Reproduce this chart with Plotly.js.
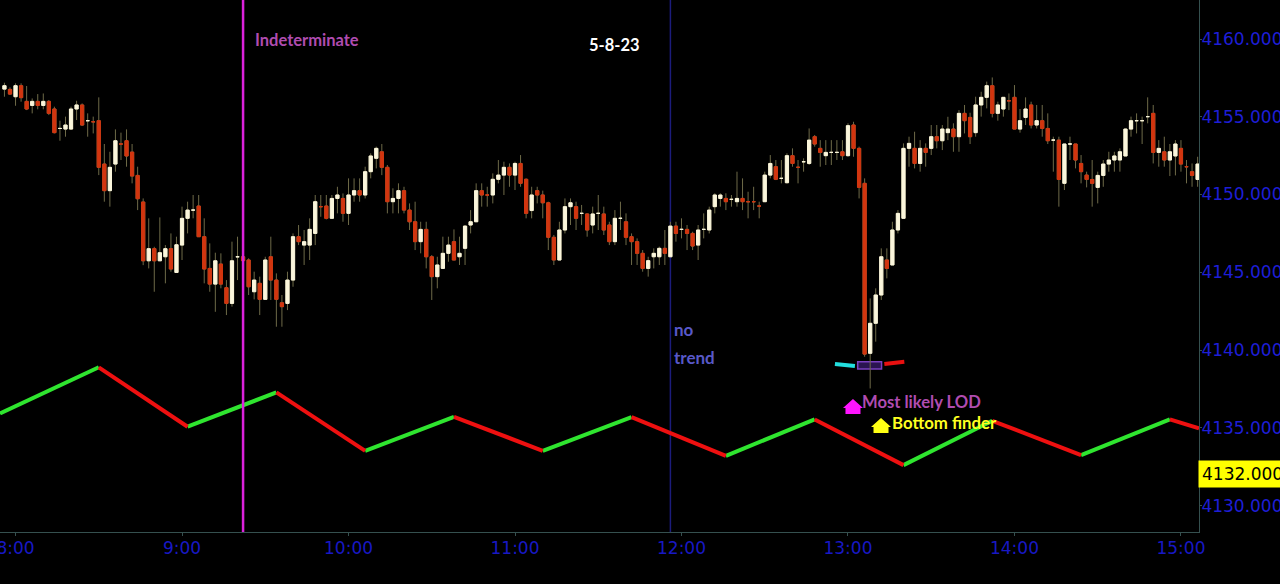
<!DOCTYPE html>
<html><head><meta charset="utf-8">
<script src="https://cdn.plot.ly/plotly-3.0.1.min.js"></script>
<style>html,body{margin:0;padding:0;background:#000;overflow:hidden}#chart{width:1280px;height:584px}</style>
</head><body><div id="chart"></div>
<script>
// ---- data ----
const sessionDate = '2023-05-08';
const firstBar = '07:56';
const barMinutes = 2;

const open = [4156.78,4156.76,4156.29,4157.00,4155.99,4155.73,4155.99,4155.73,4155.99,4155.50,
4154.25,4154.21,4154.21,4155.50,4155.76,4154.75,4154.68,4154.75,4151.96,4150.25,
4151.96,4153.25,4153.46,4152.73,4151.23,4149.52,4145.74,4146.52,4145.74,4146.00,
4146.52,4144.99,4146.75,4148.47,4149.00,4149.26,4147.29,4145.25,4144.24,4145.53,
4144.01,4143.00,4146.00,4146.00,4145.79,4143.75,4144.29,4143.26,4146.00,4144.50,
4143.04,4143.00,4144.50,4147.29,4146.75,4146.75,4147.50,4149.22,4149.26,4148.47,
4149.75,4149.75,4148.79,4149.97,4150.25,4149.97,4151.47,4152.33,4152.75,4151.75,
4149.54,4149.75,4150.25,4149.00,4148.25,4146.97,4147.76,4146.00,4144.72,4145.25,
4146.22,4146.97,4146.00,4146.54,4148.04,4148.25,4150.25,4149.97,4149.97,4150.98,
4151.25,4151.75,4151.25,4152.00,4150.98,4148.97,4150.25,4149.97,4149.47,4147.25,
4145.79,4147.72,4149.22,4149.22,4148.79,4148.75,4148.04,4148.79,4148.75,4148.04,
4146.97,4148.47,4148.25,4147.29,4146.97,4146.22,4145.25,4146.00,4146.00,4146.54,
4146.00,4147.97,4147.76,4147.76,4147.50,4146.75,4147.76,4147.72,4149.22,4149.75,
4149.75,4149.69,4149.54,4149.75,4149.54,4149.54,4149.26,4149.54,4151.25,4151.79,
4151.04,4150.76,4152.50,4151.75,4152.11,4152.00,4153.72,4152.97,4152.50,4152.71,
4152.71,4152.75,4152.50,4154.47,4152.97,4150.72,4139.79,4141.72,4143.54,4145.79,
4145.47,4147.72,4148.47,4152.97,4152.97,4152.00,4152.97,4152.97,4153.72,4153.46,
4153.98,4154.21,4153.72,4155.22,4154.96,4153.98,4155.76,4156.25,4157.00,4155.22,
4155.50,4156.03,4156.25,4154.21,4154.96,4155.76,4154.47,4154.75,4154.25,4153.50,
4153.50,4150.72,4153.25,4153.25,4152.00,4151.25,4150.97,4150.46,4151.23,4151.96,
4152.22,4152.22,4152.48,4154.21,4154.75,4154.75,4155.01,4155.22,4152.71,4152.75,
4152.22,4152.48,4152.97,4151.79,4151.47,4150.97];

const high = [4157.19,4156.89,4157.15,4157.15,4156.98,4156.18,4156.46,4156.50,4156.08,4155.65,
4154.75,4155.01,4155.65,4156.03,4155.86,4155.22,4155.01,4156.25,4153.25,4152.75,
4154.19,4153.98,4154.19,4153.25,4151.79,4149.75,4148.47,4146.64,4148.53,4146.75,
4147.50,4147.29,4149.22,4149.54,4149.97,4149.97,4148.47,4146.86,4146.26,4146.22,
4144.50,4146.97,4147.29,4146.60,4145.90,4145.04,4144.72,4146.00,4147.29,4144.93,
4143.54,4145.04,4147.50,4148.04,4147.72,4148.47,4149.97,4149.97,4149.97,4149.97,
4150.50,4150.07,4151.04,4151.04,4151.04,4151.79,4152.65,4153.08,4153.25,4151.90,
4150.40,4150.72,4150.50,4149.43,4149.54,4148.25,4148.25,4146.11,4146.00,4147.29,
4147.29,4147.76,4147.29,4148.04,4149.00,4150.72,4150.72,4150.50,4151.36,4152.22,
4152.11,4152.00,4152.11,4152.54,4151.04,4150.50,4150.50,4150.25,4149.54,4147.40,
4148.25,4149.75,4149.75,4149.54,4149.33,4148.79,4149.22,4149.97,4149.22,4148.25,
4149.00,4149.54,4148.79,4147.50,4147.18,4146.43,4146.00,4146.54,4146.65,4147.72,
4148.25,4148.25,4148.47,4148.04,4147.61,4148.04,4148.79,4149.22,4150.08,4150.08,
4150.08,4149.97,4151.47,4151.04,4150.18,4150.50,4149.54,4151.47,4152.54,4152.22,
4152.22,4152.65,4152.97,4152.22,4152.33,4154.25,4153.83,4153.50,4153.50,4153.50,
4153.50,4153.50,4154.58,4154.68,4153.08,4151.04,4143.32,4143.97,4146.54,4146.54,
4148.25,4149.00,4153.29,4153.72,4154.04,4153.50,4153.29,4154.47,4154.47,4154.47,
4155.00,4154.58,4155.43,4155.76,4155.26,4156.29,4156.61,4157.26,4157.53,4155.97,
4156.25,4156.50,4157.04,4155.50,4156.25,4155.97,4155.76,4155.76,4155.22,4153.72,
4153.72,4153.25,4153.72,4153.25,4152.54,4151.47,4152.22,4151.47,4152.22,4152.75,
4152.75,4152.97,4154.25,4155.01,4155.22,4155.01,4156.25,4155.76,4153.50,4153.72,
4153.25,4153.50,4153.50,4152.22,4152.00,4152.43];

const low = [4156.29,4156.40,4155.71,4155.97,4155.43,4155.22,4155.48,4155.48,4155.11,4153.93,
4153.46,4153.72,4154.15,4154.79,4154.41,4153.72,4153.93,4151.25,4149.54,4149.22,
4151.47,4152.22,4151.79,4150.72,4149.00,4145.46,4145.25,4143.75,4145.74,4144.29,
4145.04,4144.99,4145.79,4147.50,4148.47,4147.29,4144.29,4143.75,4142.46,4143.97,
4142.25,4142.79,4144.50,4145.30,4143.54,4143.26,4142.25,4143.22,4143.22,4141.50,
4141.50,4142.57,4144.07,4146.75,4145.47,4145.79,4146.75,4148.57,4148.40,4148.47,
4148.79,4148.25,4148.04,4149.54,4149.54,4149.75,4151.04,4151.68,4151.25,4148.79,
4148.79,4148.79,4148.79,4147.72,4146.43,4146.22,4145.25,4143.22,4143.97,4145.25,
4145.68,4145.79,4145.47,4145.47,4147.50,4148.25,4149.22,4149.22,4149.43,4150.72,
4149.97,4150.50,4150.29,4150.50,4148.47,4148.47,4149.43,4148.47,4146.43,4145.47,
4145.79,4147.50,4148.04,4147.72,4148.04,4147.29,4147.50,4147.72,4147.40,4146.75,
4146.75,4147.72,4146.75,4145.47,4145.47,4145.04,4144.72,4145.25,4145.47,4145.47,
4146.00,4146.97,4147.18,4146.43,4146.43,4145.79,4147.18,4147.50,4148.79,4149.22,
4149.00,4149.22,4149.22,4149.00,4148.47,4149.00,4148.47,4149.54,4151.04,4150.93,
4150.72,4150.72,4151.79,4150.72,4151.47,4151.90,4153.08,4151.79,4151.90,4151.90,
4152.22,4152.22,4152.43,4152.43,4149.75,4139.57,4137.53,4140.54,4143.22,4144.61,
4145.47,4147.50,4148.47,4151.79,4151.68,4151.47,4151.79,4152.54,4152.97,4152.86,
4153.50,4152.75,4152.75,4153.93,4153.25,4153.72,4155.01,4155.54,4154.96,4154.75,
4155.01,4155.43,4154.21,4153.98,4154.47,4154.25,4154.25,4153.72,4153.25,4151.47,
4149.22,4150.29,4152.22,4151.68,4150.72,4150.46,4149.22,4149.43,4150.50,4151.47,
4151.47,4151.47,4152.48,4153.72,4153.93,4153.25,4154.58,4152.00,4151.79,4151.79,
4151.19,4151.23,4151.47,4150.72,4150.50,4150.50];

const close = [4157.00,4156.46,4157.00,4156.23,4155.50,4155.99,4155.73,4155.99,4155.22,4153.98,
4154.25,4154.47,4155.50,4155.76,4154.47,4154.75,4154.68,4151.75,4150.25,4151.75,
4153.46,4153.25,4152.48,4151.19,4149.73,4145.74,4146.52,4145.74,4146.26,4146.52,
4145.21,4146.77,4148.47,4149.00,4149.00,4147.29,4145.21,4144.24,4145.74,4144.24,
4143.00,4145.74,4146.00,4145.75,4144.07,4144.50,4143.26,4145.79,4144.50,4143.26,
4142.79,4144.50,4147.29,4146.97,4146.97,4147.76,4149.54,4149.22,4148.47,4149.75,
4149.97,4148.79,4149.97,4150.25,4149.97,4151.47,4152.48,4152.97,4151.75,4149.54,
4149.75,4150.25,4149.00,4148.25,4146.97,4147.76,4146.00,4144.72,4145.47,4146.22,
4146.75,4145.79,4146.22,4147.97,4148.25,4150.25,4149.97,4149.97,4150.98,4151.25,
4151.75,4151.25,4152.00,4150.72,4148.79,4149.97,4149.97,4149.47,4147.25,4145.79,
4147.72,4149.22,4149.47,4148.47,4148.79,4147.72,4148.75,4148.79,4147.72,4146.97,
4148.47,4148.47,4147.25,4146.97,4146.22,4145.25,4145.75,4146.22,4146.54,4146.22,
4147.97,4147.50,4147.76,4147.50,4146.69,4147.72,4147.76,4149.00,4149.97,4149.97,
4149.54,4149.69,4149.75,4149.54,4149.54,4149.54,4149.26,4151.25,4152.00,4150.98,
4151.04,4152.50,4152.00,4151.75,4152.11,4153.50,4153.25,4152.71,4152.71,4152.71,
4152.71,4152.50,4154.43,4152.97,4150.46,4139.74,4141.72,4143.54,4146.00,4145.25,
4147.72,4148.79,4152.97,4153.29,4152.00,4152.97,4152.71,4153.72,4153.46,4154.21,
4154.21,4153.72,4155.22,4154.75,4153.72,4155.76,4156.25,4157.00,4155.22,4155.76,
4156.25,4156.03,4154.21,4154.75,4155.50,4154.47,4154.75,4154.25,4153.46,4153.50,
4150.97,4153.25,4153.25,4152.22,4151.47,4150.97,4150.72,4151.23,4151.96,4152.22,
4152.48,4152.75,4154.21,4154.75,4154.75,4154.75,4155.01,4152.71,4152.97,4152.22,
4152.75,4153.25,4151.96,4151.79,4151.23,4151.96];

// cycle (zigzag) indicator pivots
const zigTimes = ['07:54:24','08:30','09:02','09:34','10:06','10:38','11:10','11:42','12:16','12:48','13:20','13:52','14:24','14:56','15:06:30'];
const zigValues = [4135.93,4138.89,4135.07,4137.28,4133.52,4135.71,4133.52,4135.69,4133.20,4135.54,4132.60,4135.45,4133.25,4135.54,4134.96];

const xTickTimes = ['08:00','09:00','10:00','11:00','12:00','13:00','14:00','15:00'];
const xTickText = ['8:00','9:00','10:00','11:00','12:00','13:00','14:00','15:00'];
const yTicks = [4130,4135,4140,4145,4150,4155,4160];
const priceMarker = 4132.000;

// ---- helpers ----
function pad(n){ return (n < 10 ? '0' : '') + n; }
function ts(hm){ return sessionDate + ' ' + (hm.length === 5 ? hm + ':00' : hm); }
function barTime(i){
  const p = firstBar.split(':').map(Number);
  const tot = p[0] * 60 + p[1] + i * barMinutes;
  return sessionDate + ' ' + pad(Math.floor(tot / 60)) + ':' + pad(tot % 60) + ':00';
}
const times = open.map((_, i) => barTime(i));
const bodyHigh = open.map((o, i) => Math.max(o, close[i]));
const bodyLow = open.map((o, i) => Math.min(o, close[i]));

const wickColor = '#6e6a48';
const upColor = '#fbf6dc';
const downColor = '#d2350f';

const wicks = {
  type: 'candlestick', x: times, open: open, high: high, low: low, close: close,
  increasing: {line: {color: wickColor, width: 1}, fillcolor: 'rgba(0,0,0,0)'},
  decreasing: {line: {color: wickColor, width: 1}, fillcolor: 'rgba(0,0,0,0)'},
  whiskerwidth: 0, hoverinfo: 'skip', showlegend: false
};
const bodies = {
  type: 'candlestick', x: times, open: open, high: bodyHigh, low: bodyLow, close: close,
  increasing: {line: {color: upColor, width: 1}, fillcolor: upColor},
  decreasing: {line: {color: downColor, width: 1}, fillcolor: downColor},
  whiskerwidth: 0, hoverinfo: 'skip', showlegend: false
};

const gx = [], gy = [], rx = [], ry = [];
for (let k = 0; k < zigTimes.length - 1; k++) {
  const up = zigValues[k + 1] > zigValues[k];
  const X = up ? gx : rx, Y = up ? gy : ry;
  X.push(ts(zigTimes[k]), ts(zigTimes[k + 1]), null);
  Y.push(zigValues[k], zigValues[k + 1], null);
}
const zigUp = {type: 'scatter', mode: 'lines', x: gx, y: gy, line: {color: '#2fe52f', width: 4}, hoverinfo: 'skip', showlegend: false, connectgaps: false};
const zigDown = {type: 'scatter', mode: 'lines', x: rx, y: ry, line: {color: '#ee1010', width: 4}, hoverinfo: 'skip', showlegend: false, connectgaps: false};

const txtFont = 'Lato, "Open Sans", sans-serif';
const axisFont = '"DejaVu Sans", sans-serif';

const layout = {
  width: 1280, height: 584,
  paper_bgcolor: '#000', plot_bgcolor: '#000',
  margin: {l: 0, r: 81, t: 0, b: 52},
  showlegend: false,
  boxgap: 0.42, boxgroupgap: 0,
  xaxis: {
    type: 'date',
    range: [ts('07:54:24'), ts('15:06:30')],
    tickmode: 'array', tickvals: xTickTimes.map(ts), ticktext: xTickText,
    showgrid: false, zeroline: false,
    showline: true, linecolor: '#35504f', linewidth: 1,
    ticks: 'outside', ticklen: 3, tickcolor: '#35504f',
    tickfont: {family: axisFont, size: 17, color: '#1818c4'},
    ticklabeloverflow: 'allow', ticklabelstandoff: -2,
    rangeslider: {visible: false}, fixedrange: true
  },
  yaxis: {
    side: 'right',
    range: [4128.30, 4162.51],
    tickmode: 'array', tickvals: yTicks, tickformat: '.3f',
    showgrid: false, zeroline: false,
    showline: true, linecolor: '#35504f', linewidth: 1,
    ticks: 'outside', ticklen: 2, tickcolor: '#35504f',
    tickfont: {family: axisFont, size: 17, color: '#1e1ed6'},
    ticklabeloverflow: 'allow', ticklabelstandoff: -4, fixedrange: true
  },
  shapes: [
    {type: 'line', xref: 'x', yref: 'paper', x0: ts('11:56'), x1: ts('11:56'), y0: 0, y1: 1,
     line: {color: '#1c1c7c', width: 1.5}, layer: 'below'},
    {type: 'line', xref: 'x', yref: 'paper', x0: ts('09:22'), x1: ts('09:22'), y0: 0, y1: 1,
     line: {color: '#dc22dc', width: 2.5}, layer: 'above'},
    {type: 'rect', xref: 'x', yref: 'y', x0: ts('13:03:30'), x1: ts('13:12:06'), y0: 4138.78, y1: 4139.25,
     line: {color: '#7a3fc0', width: 1.5}, fillcolor: '#2a1450', layer: 'below'},
    {type: 'line', xref: 'x', yref: 'y', x0: ts('12:55:18'), y0: 4139.10, x1: ts('13:02:30'), y1: 4138.97,
     line: {color: '#22dede', width: 4}},
    {type: 'line', xref: 'x', yref: 'y', x0: ts('13:13:06'), y0: 4139.10, x1: ts('13:20:18'), y1: 4139.25,
     line: {color: '#e81010', width: 4}},
    {type: 'path', xref: 'x', yref: 'y', xsizemode: 'pixel', ysizemode: 'pixel',
     xanchor: ts('13:01:48'), yanchor: 4135.88,
     path: 'M -7.5,0 L 7.5,0 L 7.5,6 L 10,6 L 0,15 L -10,6 L -7.5,6 Z',
     fillcolor: '#ff14ff', line: {width: 0}},
    {type: 'path', xref: 'x', yref: 'y', xsizemode: 'pixel', ysizemode: 'pixel',
     xanchor: ts('13:11:54'), yanchor: 4134.66,
     path: 'M -7.5,0 L 7.5,0 L 7.5,6 L 10,6 L 0,15 L -10,6 L -7.5,6 Z',
     fillcolor: '#ffff14', line: {width: 0}}
  ],
  annotations: [
    {xref: 'x', yref: 'y', x: ts('09:26:40'), y: 4159.94, xanchor: 'left', yanchor: 'middle', showarrow: false, xshift: -3,
     text: '<b>Indeterminate</b>', font: {family: txtFont, size: 16.5, color: '#b04cb0'}},
    {xref: 'x', yref: 'y', x: ts('11:36'), y: 4159.61, xanchor: 'center', yanchor: 'middle', showarrow: false,
     text: '<b>5-8-23</b>', font: {family: txtFont, size: 16.5, color: '#ffffff'}},
    {xref: 'x', yref: 'y', x: ts('11:57:40'), y: 4141.35, xanchor: 'left', yanchor: 'middle', showarrow: false, xshift: -3,
     text: '<b>no</b>', font: {family: txtFont, size: 17, color: '#5858c8'}},
    {xref: 'x', yref: 'y', x: ts('11:57:40'), y: 4139.49, xanchor: 'left', yanchor: 'middle', showarrow: false, xshift: -3,
     text: '<b>trend</b>', font: {family: txtFont, size: 17, color: '#5858c8'}},
    {xref: 'x', yref: 'y', x: ts('13:05:24'), y: 4136.66, xanchor: 'left', yanchor: 'middle', showarrow: false, xshift: -3,
     text: '<b>Most likely LOD</b>', font: {family: txtFont, size: 16.6, color: '#b04cb0'}},
    {xref: 'x', yref: 'y', x: ts('13:16:12'), y: 4135.31, xanchor: 'left', yanchor: 'middle', showarrow: false, xshift: -3,
     text: '<b>Bottom finder</b>', font: {family: txtFont, size: 16.8, color: '#ffff20'}},
    {xref: 'paper', yref: 'y', x: 1, y: priceMarker, xanchor: 'left', yanchor: 'middle', showarrow: false,
     text: priceMarker.toFixed(3), bgcolor: '#ffff00', borderpad: 3, xshift: -1,
     font: {family: axisFont, size: 17, color: '#000000'}}
  ]
};

Plotly.newPlot('chart', [wicks, bodies, zigUp, zigDown], layout, {displayModeBar: false, staticPlot: true});
</script>
</body></html>
